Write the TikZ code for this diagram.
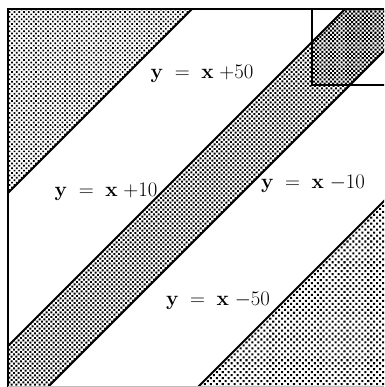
\documentclass[tikz,border=0pt]{standalone}
\usetikzlibrary{patterns.meta}
\begin{document}
\begin{tikzpicture}[x=1pt,y=-1pt,
  lbl/.style={inner sep=0pt, font=\fontsize{20}{22}\selectfont},
  diag/.style={line width=1.8pt},
  sqline/.style={line width=1.5pt},
  frameline/.style={line width=2.8pt},
  ulfill/.style={pattern={Dots[angle=45,distance=3.4pt,radius=1.2pt]}},
  bandfill/.style={pattern={Dots[angle=45,distance=3.3pt,radius=1.35pt]}},
  sqfill/.style={pattern={Dots[angle=45,distance=3.0pt,radius=1.45pt]}},
  lrfill/.style={pattern={Dots[angle=45,distance=4.2pt,radius=1.45pt]}}]
\useasboundingbox (0,0) rectangle (384,387);
\fill[white] (0,0) rectangle (384,387);
\begin{scope}
  \clip (8,9) rectangle (384,387);
  % shaded regions
  \fill[ulfill] (8,9) -- (192,9) -- (8,193) -- cycle;
  \fill[bandfill] (345,9) -- (390,9) -- (390,45) -- (48,387) -- (8,387) -- (8,346) -- cycle;
  \fill[white] (312,9) rectangle (390,85);
  \fill[sqfill] (312,42) -- (345,9) -- (390,9) -- (390,45) -- (350,85) -- (312,85) -- cycle;
  \fill[lrfill] (198,387) -- (390,195) -- (390,387) -- cycle;
  % boundary lines
  \coordinate (a50) at (0,201);  \coordinate (b50) at (201,0);
  \coordinate (a10) at (0,354);  \coordinate (b10) at (354,0);
  \coordinate (am10) at (0,435); \coordinate (bm10) at (435,0);
  \coordinate (am50) at (0,585); \coordinate (bm50) at (585,0);
  \draw[diag] (a50) -- (b50);
  \draw[diag] (a10) -- (b10);
  \draw[diag] (am10) -- (bm10);
  \draw[diag] (am50) -- (bm50);
  % small square
  \coordinate (s1) at (312,9);
  \coordinate (s2) at (312,85);
  \coordinate (s3) at (390,85);
  \draw[sqline] (s1) -- (s2) -- (s3);
\end{scope}
% frame
\coordinate (tr) at (384,9);
\coordinate (tl) at (8,9);
\coordinate (bl) at (8,387);
\draw[frameline] (tr) -- (tl) -- (bl);
\draw[gray!50, line width=0.6pt] (8,386) -- (384,386);
% labels
\node[lbl] (l50) at (202,74) {$\mathbf{y}\;=\;\mathbf{x}\;{+}50$};
\node[lbl] (l10) at (106,192) {$\mathbf{y}\;=\;\mathbf{x}\;{+}10$};
\node[lbl] (lm10) at (313,184) {$\mathbf{y}\;=\;\mathbf{x}\;{-}10$};
\node[lbl] (lm50) at (218,301) {$\mathbf{y}\;=\;\mathbf{x}\;{-}50$};
\end{tikzpicture}
\end{document}
